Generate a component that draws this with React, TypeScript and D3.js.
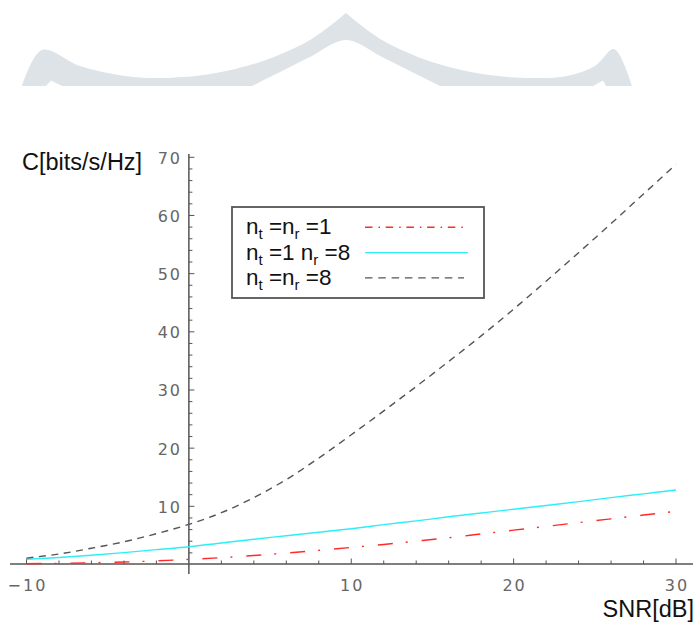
import React from "react";
import * as d3 from "d3";

const snrDb = [-10, -8, -6, -4, -2, 0, 2, 4, 6, 8, 10, 12, 14, 16, 18, 20, 22, 24, 26, 28, 30];
const capSiso = [0.13, 0.2, 0.3, 0.43, 0.62, 0.88, 1.18, 1.55, 1.97, 2.43, 2.93, 3.45, 4.02, 4.6, 5.25, 5.9, 6.55, 7.2, 7.85, 8.5, 9.15];
const capSimo = [0.9, 1.2, 1.6, 2.05, 2.55, 3.05, 3.7, 4.35, 4.95, 5.55, 6.15, 6.85, 7.5, 8.2, 8.85, 9.5, 10.15, 10.8, 11.5, 12.15, 12.8];
const capMimo = [1.1, 1.8, 2.8, 3.9, 5.3, 6.9, 8.9, 11.5, 14.6, 18.3, 22.3, 26.4, 30.6, 34.9, 39.3, 43.9, 48.7, 53.6, 58.6, 63.7, 68.8];

const xTickLabels = [-10, 10, 20, 30];
const yTickLabels = [10, 20, 30, 40, 50, 60, 70];

const legendRows = [
  { a: "t", mid: " =n", b: "r", end: " =1", key: "siso" },
  { a: "t", mid: " =1 n", b: "r", end: " =8", key: "simo" },
  { a: "t", mid: " =n", b: "r", end: " =8", key: "mimo" },
];

const styles: Record<string, { stroke: string; dash: string; legendDash: string }> = {
  siso: { stroke: "#ff2a2a", dash: "15,13,2,14", legendDash: "7.5,6,1.5,5.7" },
  simo: { stroke: "#2eeef5", dash: "", legendDash: "" },
  mimo: { stroke: "#555", dash: "7,5.5", legendDash: "7.5,5.8" },
};

export default function App() {
  const W = 697, H = 624;
  const x = d3.scaleLinear().domain([-10, 30]).range([26.5, 676]);
  const y = d3.scaleLinear().domain([0, 70]).range([564.5, 157.3]);
  const x0 = x(0);
  const axisY = 564;

  const mk = (vals: number[]) =>
    d3.line<number>().x((_, i) => x(snrDb[i])).y((d) => y(d)).curve(d3.curveCatmullRom)(vals) || "";

  const series = [
    { key: "siso", vals: capSiso },
    { key: "simo", vals: capSimo },
    { key: "mimo", vals: capMimo },
  ];

  const xMinor = d3.range(-10, 31, 2).filter((v) => v !== 0);
  const yMinor = d3.range(2, 71, 2);

  // watermark arch
  const outerL = [[22, 86], [42, 50], [80, 66], [125, 76], [160, 78], [210, 74], [260, 62], [310, 40], [346, 13]];
  const outerR = [[346, 13], [382, 40], [432, 62], [482, 74], [532, 78], [567, 76], [595, 66], [614, 49], [632, 86]];
  const innerArch = [[440, 86], [408, 70], [382, 57], [346, 40], [310, 57], [284, 70], [252, 86]];
  const lineGen = d3.line().curve(d3.curveCatmullRom);
  const outerPath = (lineGen(outerL as [number, number][]) || "") + (lineGen(outerR as [number, number][]) || "").replace(/^M/, "L");
  const innerPath = (lineGen(innerArch as [number, number][]) || "").replace(/^M/, "L");
  const watermark =
    outerPath +
    "L606,86 L603,80.5 L593,86 " +
    innerPath +
    "L62,86 L51,80.5 L46,86 Z";

  return (
    <svg width={W} height={H} style={{ position: "absolute", left: 0, top: 0, background: "#fff" }}>
      <path d={watermark} fill="#dde3e7" />

      {/* axes */}
      <line x1={10} x2={693} y1={axisY} y2={axisY} stroke="#555" strokeWidth={1.5} />
      <line x1={x0} x2={x0} y1={154} y2={574} stroke="#555" strokeWidth={1.5} />
      {xMinor.map((v) => (
        <line key={"xt" + v} x1={x(v)} x2={x(v)} y1={axisY} y2={axisY - (v % 10 === 0 ? 5.5 : 3.5)} stroke="#555" strokeWidth={1} />
      ))}
      {yMinor.map((v) => (
        <line key={"yt" + v} x1={x0} x2={x0 + (v % 10 === 0 ? 5.5 : 3.5)} y1={y(v)} y2={y(v)} stroke="#555" strokeWidth={1} />
      ))}
      {xTickLabels.map((v) => (
        <text key={"xl" + v} x={x(v) + 1} y={591} textAnchor="middle" fontFamily="DejaVu Sans" fontSize={16} letterSpacing={2} fill="#666">
          {v < 0 ? "\u2212" + Math.abs(v) : String(v)}
        </text>
      ))}
      {yTickLabels.map((v) => (
        <text key={"yl" + v} x={182} y={y(v) + 1} textAnchor="end" dominantBaseline="central" fontFamily="DejaVu Sans" fontSize={16} letterSpacing={2} fill="#666">
          {v}
        </text>
      ))}
      <text x={22} y={170} fontFamily="Liberation Sans, Arial" fontSize={23.5} fill="#111">C[bits/s/Hz]</text>
      <text x={694} y={617} textAnchor="end" fontFamily="Liberation Sans, Arial" fontSize={23.5} fill="#111">SNR[dB]</text>

      {/* curves */}
      {series.map((s) => (
        <path key={s.key} d={mk(s.vals)} fill="none" stroke={styles[s.key].stroke} strokeWidth={1.4} strokeDasharray={styles[s.key].dash || undefined} />
      ))}

      {/* legend */}
      <rect x={232} y={207} width={252} height={91} fill="#fff" stroke="#555" strokeWidth={1.8} />
      {legendRows.map((r, i) => {
        const by = 234 + i * 25.5;
        const ly = 227.3 + i * 25.3;
        const st = styles[r.key];
        return (
          <g key={r.key}>
            <text x={246} y={by} fontFamily="Liberation Sans, Arial" fontSize={22.5} fill="#111">
              n<tspan fontSize={15} dy={5}>{r.a}</tspan>
              <tspan dy={-5}>{r.mid}</tspan>
              <tspan fontSize={15} dy={5}>{r.b}</tspan>
              <tspan dy={-5}>{r.end}</tspan>
            </text>
            <line x1={365} x2={r.key === "mimo" ? 464 : 468} y1={ly} y2={ly} stroke={st.stroke} strokeWidth={1.4} strokeDasharray={st.legendDash || undefined} />
          </g>
        );
      })}
    </svg>
  );
}
